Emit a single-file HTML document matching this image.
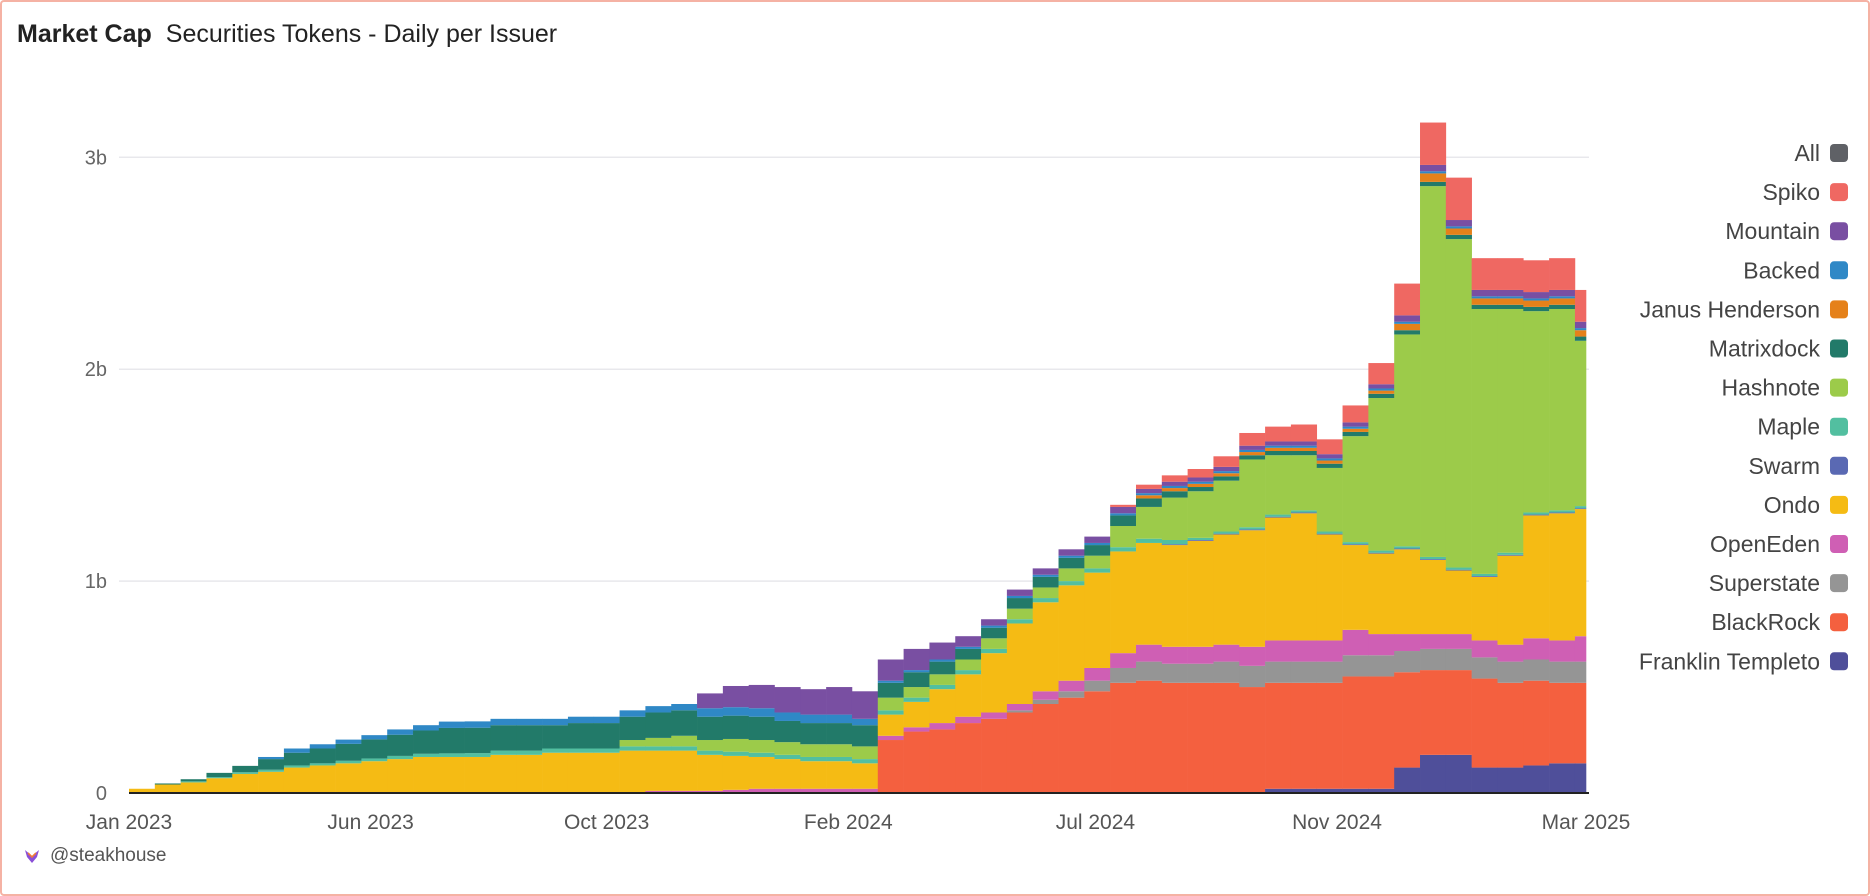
<!DOCTYPE html>
<html><head><meta charset="utf-8"><title>Market Cap</title>
<style>
html,body{margin:0;padding:0;background:#fff;}
body{width:1870px;height:896px;overflow:hidden;font-family:"Liberation Sans",sans-serif;}
#frame{position:absolute;left:0;top:0;width:1866px;height:892px;border:2px solid #f5b2a4;border-radius:4px;}
#title{position:absolute;left:17px;top:20px;font-size:25px;color:#222;white-space:nowrap;}
#title b{font-weight:bold;margin-right:14px;}
#footer{position:absolute;left:24px;top:845px;font-size:19px;color:#555;display:flex;align-items:center;gap:10px;}
svg{position:absolute;left:0;top:0;}
</style></head><body>
<div id="frame"></div>
<div id="title"><b>Market Cap</b><span>Securities Tokens - Daily per Issuer</span></div>
<div id="footer"><svg width="16" height="16" viewBox="0 0 16 16" style="position:static"><path d="M1 2 L8 8 L15 2 L13 9 L8 15 L3 9 Z" fill="#8a4fd8"/><path d="M4 5 L8 9 L12 5" stroke="#f07a3a" stroke-width="1.6" fill="none"/></svg><span>@steakhouse</span></div>
<svg id="chart" width="1870" height="896"></svg>
<script>
const franklin=[0,0,0,0,0,0,0,0,0,0,0,0,0,0,0,0,0,0,0,0,0,0,0,0,0,0,0,0,0,0,0,0,0,0,0,0,0,0,0,0,0,0,0,0,0.02,0.02,0.02,0.02,0.02,0.12,0.18,0.18,0.12,0.12,0.13,0.14,0.14];
const blackrock=[0,0,0,0,0,0,0,0,0,0,0,0,0,0,0,0,0,0,0,0,0,0,0,0,0,0,0,0,0,0.25,0.29,0.30,0.33,0.35,0.38,0.42,0.45,0.48,0.52,0.53,0.52,0.52,0.52,0.50,0.50,0.50,0.50,0.53,0.53,0.45,0.40,0.40,0.42,0.40,0.40,0.38,0.38];
const superstate=[0,0,0,0,0,0,0,0,0,0,0,0,0,0,0,0,0,0,0,0,0,0,0,0,0,0,0,0,0,0,0,0,0,0,0.01,0.02,0.03,0.05,0.07,0.09,0.09,0.09,0.1,0.1,0.1,0.1,0.1,0.1,0.1,0.1,0.1,0.1,0.1,0.1,0.1,0.1,0.1];
const openeden=[0,0,0,0,0,0,0,0,0,0,0,0,0,0,0,0,0,0,0,0,0.01,0.01,0.01,0.015,0.02,0.02,0.02,0.02,0.02,0.02,0.02,0.03,0.03,0.03,0.03,0.04,0.05,0.06,0.07,0.08,0.08,0.08,0.08,0.09,0.1,0.1,0.1,0.12,0.1,0.08,0.07,0.07,0.08,0.08,0.1,0.1,0.12];
const ondo=[0.02,0.04,0.05,0.07,0.09,0.10,0.12,0.13,0.14,0.15,0.16,0.17,0.17,0.17,0.18,0.18,0.19,0.19,0.19,0.20,0.19,0.19,0.17,0.16,0.15,0.14,0.13,0.13,0.12,0.10,0.12,0.16,0.20,0.28,0.38,0.42,0.45,0.45,0.48,0.48,0.48,0.50,0.52,0.55,0.58,0.60,0.50,0.40,0.38,0.40,0.35,0.30,0.30,0.42,0.58,0.60,0.60];
const swarm=[0,0,0,0,0,0,0,0,0,0,0,0,0,0,0,0,0,0,0,0,0,0,0,0,0,0,0,0,0,0,0,0,0,0,0,0,0,0,0,0,0.004,0.004,0.004,0.004,0.004,0.004,0.004,0.004,0.004,0.004,0.004,0.004,0.004,0.004,0.004,0.004,0.004];
const maple=[0,0,0.005,0.005,0.008,0.01,0.01,0.01,0.012,0.013,0.015,0.015,0.017,0.018,0.02,0.02,0.02,0.02,0.02,0.02,0.02,0.02,0.02,0.02,0.02,0.02,0.02,0.02,0.02,0.02,0.02,0.02,0.02,0.02,0.02,0.02,0.02,0.02,0.02,0.02,0.02,0.01,0.01,0.01,0.01,0.01,0.01,0.01,0.01,0.01,0.01,0.01,0.01,0.01,0.01,0.01,0.01];
const hashnote=[0,0,0,0,0,0,0,0,0,0,0,0,0,0,0,0,0,0,0,0.03,0.04,0.05,0.05,0.06,0.06,0.06,0.06,0.06,0.06,0.06,0.05,0.05,0.05,0.05,0.05,0.05,0.06,0.06,0.10,0.15,0.20,0.22,0.24,0.32,0.28,0.26,0.3,0.5,0.72,1.0,1.75,1.55,1.25,1.15,0.95,0.95,0.78];
const matrixdock=[0,0.005,0.01,0.02,0.03,0.05,0.06,0.07,0.08,0.09,0.1,0.11,0.12,0.12,0.12,0.12,0.11,0.12,0.12,0.11,0.12,0.12,0.11,0.11,0.11,0.1,0.1,0.1,0.1,0.07,0.07,0.06,0.05,0.05,0.05,0.05,0.05,0.05,0.05,0.04,0.03,0.02,0.02,0.02,0.02,0.02,0.02,0.02,0.02,0.02,0.02,0.02,0.02,0.02,0.02,0.02,0.02];
const janus=[0,0,0,0,0,0,0,0,0,0,0,0,0,0,0,0,0,0,0,0,0,0,0,0,0,0,0,0,0,0,0,0,0,0,0,0,0,0,0,0.015,0.015,0.015,0.015,0.015,0.015,0.015,0.015,0.015,0.015,0.03,0.04,0.03,0.03,0.03,0.03,0.03,0.03];
const backed=[0,0,0,0,0,0.01,0.02,0.02,0.02,0.02,0.025,0.025,0.03,0.03,0.03,0.03,0.03,0.03,0.03,0.03,0.03,0.03,0.04,0.04,0.04,0.04,0.04,0.04,0.03,0.01,0.01,0.01,0.01,0.01,0.01,0.01,0.01,0.01,0.01,0.01,0.01,0.01,0.01,0.01,0.01,0.01,0.01,0.01,0.01,0.01,0.01,0.01,0.01,0.01,0.01,0.01,0.01];
const mountain=[0,0,0,0,0,0,0,0,0,0,0,0,0,0,0,0,0,0,0,0,0,0,0.07,0.1,0.11,0.12,0.12,0.13,0.13,0.1,0.1,0.08,0.05,0.03,0.03,0.03,0.03,0.03,0.03,0.02,0.02,0.02,0.02,0.02,0.02,0.02,0.02,0.02,0.02,0.03,0.03,0.03,0.03,0.03,0.03,0.03,0.03];
const spiko=[0,0,0,0,0,0,0,0,0,0,0,0,0,0,0,0,0,0,0,0,0,0,0,0,0,0,0,0,0,0,0,0,0,0,0,0,0,0,0.01,0.02,0.03,0.04,0.05,0.06,0.07,0.08,0.07,0.08,0.1,0.15,0.2,0.2,0.15,0.15,0.15,0.15,0.15];
const seriesNames=["Franklin Templeto","BlackRock","Superstate","OpenEden","Ondo","Swarm","Maple","Hashnote","Matrixdock","Janus Henderson","Backed","Mountain","Spiko"];
const seriesColors=["#4f4f9a","#f4603f","#959595","#cf5fb4","#f5bb14","#5a69b3","#52bfa0","#9ccb4a","#227a69","#e5811a","#2f88c6","#794fa2","#ef6862"];
const seriesData=[franklin,blackrock,superstate,openeden,ondo,swarm,maple,hashnote,matrixdock,janus,backed,mountain,spiko];
const legendNames=["All","Spiko","Mountain","Backed","Janus Henderson","Matrixdock","Hashnote","Maple","Swarm","Ondo","OpenEden","Superstate","BlackRock","Franklin Templeto"];
const legendColors=["#5f6166","#ef6862","#794fa2","#2f88c6","#e5811a","#227a69","#9ccb4a","#52bfa0","#5a69b3","#f5bb14","#cf5fb4","#959595","#f4603f","#4f4f9a"];
const yTicks=[0,1,2,3];
const yTickLabels=["0","1b","2b","3b"];
const xTickDays=[0,131,259,390,524,655,790];
const xTickLabels=["Jan 2023","Jun 2023","Oct 2023","Feb 2024","Jul 2024","Nov 2024","Mar 2025"];
const periodDays=14, totalDays=790;

const NS="http://www.w3.org/2000/svg";
const svg=document.getElementById('chart');
const X0=129,X1=1586,Y0=793,PXB=211.9;
const xs=d=>X0+d*(X1-X0)/totalDays;
const ys=v=>Y0-v*PXB;
function mk(tag,attrs){const e=document.createElementNS(NS,tag);for(const k in attrs)e.setAttribute(k,attrs[k]);svg.appendChild(e);return e;}
yTicks.forEach((t,i)=>{
  if(t>0){const g=mk('line',{x1:119,x2:1589,y1:ys(t),y2:ys(t),stroke:'#e8e8ec','stroke-width':1.5});
  
  }
  const tx=mk('text',{x:107,y:ys(t)+7,'text-anchor':'end','font-size':20,fill:'#666','font-family':'Liberation Sans, sans-serif'});
  tx.textContent=yTickLabels[i];
  
  
});
const n=franklin.length;
for(let i=0;i<n;i++){
  const d0=i*periodDays,d1=Math.min(totalDays,(i+1)*periodDays);
  const x=xs(d0),w=xs(d1)-xs(d0);
  let acc=0;
  seriesData.forEach((arr,s)=>{
    const v=arr[i];if(!v)return;
    const r=mk('rect',{x:x,y:ys(acc+v),width:w+0.3,height:v*PXB,fill:seriesColors[s]});
    
    
    acc+=v;
  });
}
const base=mk('line',{x1:X0,x2:1589,y1:Y0,y2:Y0,stroke:'#222','stroke-width':2});


xTickDays.forEach((d,i)=>{
  const t=mk('text',{x:xs(d),y:829,'text-anchor':'middle','font-size':21,fill:'#555','font-family':'Liberation Sans, sans-serif'});
  t.textContent=xTickLabels[i];
  
  
});
legendNames.forEach((nm,i)=>{
  const y=153+i*39.1;
  const t=mk('text',{x:1820,y:y+8,'text-anchor':'end','font-size':23,fill:'#444','font-family':'Liberation Sans, sans-serif'});
  t.textContent=nm;
  
  
  const r=mk('rect',{x:1830,y:y-9,width:18,height:18,rx:4,fill:legendColors[i]});
  
  
});
</script>
</body></html>
